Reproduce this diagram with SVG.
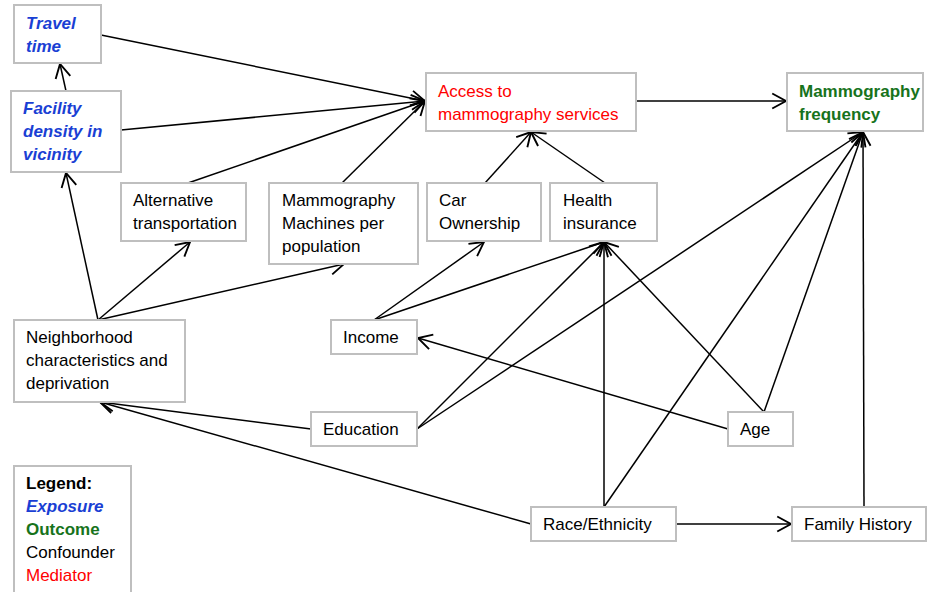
<svg xmlns="http://www.w3.org/2000/svg" width="927" height="592" viewBox="0 0 927 592">
<style>
.box{fill:#fff;stroke:#bfbfbf;stroke-width:2}
text{font-family:"Liberation Sans",Arial,sans-serif;font-size:17px;fill:#000}
.exp{fill:#1a3fd4;font-weight:bold;font-style:italic}
.out{fill:#17731c;font-weight:bold}
.med{fill:#ff0000}
.c line{stroke:#000;stroke-width:1.5;marker-end:url(#ah)}
</style>
<defs>
<marker id="ah" markerUnits="userSpaceOnUse" markerWidth="20" markerHeight="20" viewBox="-12 -8 14 16" refX="0" refY="0" orient="auto">
<path d="M-11,-6 L0,0 L-11,6" fill="none" stroke="#000" stroke-width="1.5"/>
</marker>
</defs>
<rect width="927" height="592" fill="#fff"/>
<g class="c">
<line x1="101" y1="35" x2="425" y2="101"/>
<line x1="121" y1="130" x2="425" y2="101"/>
<line x1="188" y1="183" x2="425" y2="101"/>
<line x1="342" y1="183" x2="425" y2="101"/>
<line x1="66" y1="91" x2="60" y2="64"/>
<line x1="98" y1="320" x2="66" y2="173"/>
<line x1="98" y1="320" x2="190" y2="242"/>
<line x1="98" y1="320" x2="344" y2="264"/>
<line x1="636" y1="101" x2="786" y2="101"/>
<line x1="485" y1="183" x2="531" y2="132"/>
<line x1="605" y1="183" x2="531" y2="132"/>
<line x1="374" y1="320" x2="484" y2="242"/>
<line x1="374" y1="320" x2="604" y2="242"/>
<line x1="417" y1="429" x2="604" y2="242"/>
<line x1="417" y1="429" x2="863" y2="132"/>
<line x1="311" y1="429" x2="100" y2="402"/>
<line x1="531" y1="524" x2="100" y2="402"/>
<line x1="604" y1="507" x2="604" y2="242"/>
<line x1="604" y1="507" x2="863" y2="132"/>
<line x1="676" y1="524" x2="791" y2="524"/>
<line x1="728" y1="429" x2="418" y2="338"/>
<line x1="764" y1="412" x2="604" y2="242"/>
<line x1="764" y1="412" x2="863" y2="132"/>
<line x1="864" y1="507" x2="863" y2="132"/>
</g>
<g id="travel"><rect class="box" x="14" y="5" width="87" height="58"/><text class="exp" x="26" y="29">Travel</text><text class="exp" x="26" y="52">time</text></g>
<g id="facility"><rect class="box" x="11" y="91" width="110" height="81"/><text class="exp" x="23" y="114">Facility</text><text class="exp" x="23" y="137">density in</text><text class="exp" x="23" y="160">vicinity</text></g>
<g id="alt"><rect class="box" x="121" y="183" width="125" height="58"/><text x="133" y="206">Alternative</text><text x="133" y="229">transportation</text></g>
<g id="machines"><rect class="box" x="269" y="183" width="149" height="81"/><text x="282" y="206">Mammography</text><text x="282" y="229">Machines per</text><text x="282" y="252">population</text></g>
<g id="access"><rect class="box" x="426" y="73" width="210" height="58"/><text class="med" x="438" y="97">Access to</text><text class="med" x="438" y="120">mammography services</text></g>
<g id="freq"><rect class="box" x="787" y="73" width="136" height="58"/><text class="out" x="799" y="97">Mammography</text><text class="out" x="799" y="120">frequency</text></g>
<g id="car"><rect class="box" x="427" y="183" width="114" height="58"/><text x="439" y="206">Car</text><text x="439" y="229">Ownership</text></g>
<g id="health"><rect class="box" x="550" y="183" width="107" height="58"/><text x="563" y="206">Health</text><text x="563" y="229">insurance</text></g>
<g id="neigh"><rect class="box" x="14" y="320" width="171" height="82"/><text x="26" y="343">Neighborhood</text><text x="26" y="366">characteristics and</text><text x="26" y="389">deprivation</text></g>
<g id="income"><rect class="box" x="331" y="320" width="86" height="34"/><text x="343" y="343">Income</text></g>
<g id="edu"><rect class="box" x="311" y="412" width="106" height="34"/><text x="323" y="435">Education</text></g>
<g id="age"><rect class="box" x="728" y="412" width="65" height="34"/><text x="740" y="435">Age</text></g>
<g id="race"><rect class="box" x="531" y="507" width="145" height="34"/><text x="543" y="530">Race/Ethnicity</text></g>
<g id="family"><rect class="box" x="792" y="507" width="134" height="34"/><text x="804" y="530">Family History</text></g>
<g id="legend"><rect class="box" x="14" y="466" width="117" height="140"/><text x="26" y="489" font-weight="bold">Legend:</text><text class="exp" x="26" y="512">Exposure</text><text class="out" x="26" y="535">Outcome</text><text x="26" y="558">Confounder</text><text class="med" x="26" y="581">Mediator</text></g>
</svg>
